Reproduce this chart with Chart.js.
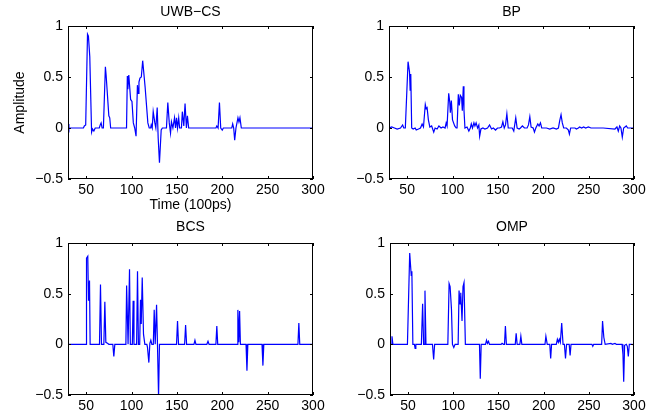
<!DOCTYPE html>
<html lang="en">
<head>
    <meta charset="UTF-8">
    <title>UWB-CS / BP / BCS / OMP</title>
    <script src="https://cdn.jsdelivr.net/npm/chart.js"></script>
    <style>
        body { margin: 0; background: #fff; }
        #fig { position: relative; width: 670px; height: 420px; }
        #fig canvas { position: absolute; }
    </style>
</head>
<body>
    <div id="fig">
        <canvas id="p1" width="335" height="225" style="left:0;top:0"></canvas>
        <canvas id="p2" width="335" height="210" style="left:335px;top:0"></canvas>
        <canvas id="p3" width="335" height="210" style="left:0;top:210px"></canvas>
        <canvas id="p4" width="335" height="210" style="left:335px;top:210px"></canvas>
    </div>

    <script>
        // axis ticks
        const xTicks = [50, 100, 150, 200, 250, 300];
        const yTicks = [-0.5, 0, 0.5, 1];

        // UWB-CS reconstruction
        const uwbTime = [30, 31, 47, 48, 49.5, 51.5, 52.5, 54, 56, 57, 58.5, 60, 64.5, 65.5, 66.5, 67.6, 69, 71.2, 72, 75, 76, 77,
            94.5, 95.4, 96, 97, 98, 99, 100.5, 102, 103.5, 105, 106.5, 107.5, 108.2, 109.3, 110.8, 112.3, 115, 118, 119.5,
            121, 121.7, 122.8, 123.9, 125.7, 126.8, 128.3, 129.4, 130.8, 132.7, 134, 138.5, 140, 141.6, 143, 144, 145.6,
            147.4, 148.5, 149.6, 150.7, 152, 153, 155, 156, 157.6, 159, 160.5, 161.6, 163, 193, 194, 195.4, 196.9, 198.3,
            200, 201.2, 210.5, 211.5, 212.6, 213.7, 215.1, 217.3, 218.4, 219.5, 221, 300];
        const uwbAmp = [0.04, 0, 0, 0.02, 0.03, 0.92, 0.9, 0.7, -0.04, -0.01, -0.03, 0, 0, 0.03, 0.05, 0, 0, 0.6, 0.52, 0.12, 0.1, 0,
            0, 0.51, 0.38, 0.52, 0.4, 0.28, 0.26, 0.05, 0, -0.08, 0.42, 0.34, 0.45, 0.49, 0.5, 0.66, 0.4, 0.05, 0,
            0, 0.03, 0, 0.16, 0.05, 0, 0.2, -0.1, -0.34, -0.02, 0, 0, 0.25, 0.05, -0.05, 0.06, 0,
            0.1, 0, 0.1, 0, 0.1, 0, 0, 0.16, 0.02, 0.24, 0, 0.12, 0, 0, 0.02, 0, 0.25, 0,
            -0.02, 0, 0, 0.04, 0, -0.12, 0, 0.1, 0.06, 0.1, 0, 0];

        // BP reconstruction
        const bpTime = [30, 33, 36, 39, 42.7, 45, 46.3, 48, 51, 52.6, 53.3, 54, 55, 56.6, 58.8, 60, 62.5, 64.7, 66.5, 68, 70, 71, 72,
            73.4, 75, 77, 79.3, 80.8, 83, 85, 87.4, 89.5, 91.8, 93, 94, 95.8, 97, 97.6, 98.7, 100, 102.4, 104, 105, 106.4,
            107.5, 108.6, 110, 110.8, 111.9, 112.6, 113.7, 116, 118, 119.6, 120.7, 122, 123.6, 124.7, 126, 127.6, 129,
            129.9, 131.3, 133.5, 135.7, 138.6, 140.8, 143, 145, 147.4, 149.6, 151.8, 154, 155.5, 157, 158.4, 159.9, 161.4,
            163.6, 165.8, 167.5, 169.7, 171.2, 173.4, 174.9, 177, 179.3, 182.2, 183.7, 185.2, 186.6, 188.9, 190.3, 191.8,
            194, 195.4, 196.9, 198.3, 203.5, 207.1, 210.8, 214.5, 216.7, 218.1, 219.6, 221, 222.5, 225.5, 227.7, 228.8,
            230.2, 235, 236.5, 238.7, 240.1, 242.3, 244.5, 246.7, 249.7, 252.6, 266, 279, 281.2, 282.7, 284.2, 285.6,
            287.1, 288.6, 291.5, 293, 300];
        const bpAmp = [0, 0.01, 0, -0.01, 0, 0.03, 0, 0, 0.65, 0.55, 0.37, 0.53, 0, -0.01, 0, -0.02, -0.01, 0, 0.04, 0.01, 0.23, 0.19, 0.2,
            0.08, 0.01, 0.02, -0.04, 0, -0.01, 0.02, 0, 0.01, 0, 0.05, 0.02, 0.34, 0.25, 0.15, 0.27, 0.08, 0.02, 0, 0, 0.33,
            0.22, 0.32, 0.3, 0.17, 0.41, 0.18, 0, 0.01, -0.03, 0, 0.04, 0, 0.05, 0.02, 0.05, 0, 0.03,
            -0.08, -0.01, 0, -0.01, 0, 0.03, -0.01, 0, -0.02, 0, 0, 0.01, 0.06, 0, 0.03, 0.14, 0,
            0, 0, -0.03, 0.1, 0, -0.01, 0, 0.02, 0, 0, 0.03, 0.11, 0.01, 0, -0.04, 0,
            0.04, 0.02, 0.05, 0, 0, -0.01, 0, -0.01, 0, 0.07, 0.13, 0.05, 0, 0, -0.02, -0.06,
            0, 0, -0.01, 0, 0.01, 0, 0.01, 0, 0.01, 0, 0, -0.01, 0.01, -0.03, 0.02, 0,
            -0.09, 0, 0.02, 0, 0];

        // BCS reconstruction
        const bcsTime = [30, 50, 50.4, 51.8, 52.6, 53.7, 54.4, 64.7, 65.8, 66.9, 69.5, 70.6, 71.7, 73.5, 75, 79.4, 80.5, 81.6,
            93.8, 94.6, 96.2, 97, 97.8, 98.7, 100.9, 101.8, 102.7, 105.6, 106.6, 107.6, 109, 109.9, 110.7, 111.8, 113.2,
            114.7, 116.9, 117.6, 119.1, 120.2, 121.3, 122.4, 124, 125, 126.1, 126.8, 127.6, 128.6, 129, 129.8, 130.8,
            149.6, 150.7, 151.8, 158.5, 159.6, 160.7, 168.8, 169.9, 171, 183, 184.3, 185.5, 193, 194, 195, 216.3, 217.2,
            218.3, 219.1, 220, 226.2, 227.2, 228.2, 243.8, 244.8, 245.8, 283.4, 284.4, 285.4, 300];
        const bcsAmp = [0, 0, 0.85, 0.87, 0.43, 0.63, 0, 0, 0.59, 0, 0, 0.42, 0.02, 0.01, 0, 0, -0.12, 0,
            0, 0.58, 0, 0, 0.74, 0, 0, 0.43, 0, 0, 0.72, 0, 0, 0.44, 0.2, 0.66, 0.1,
            0, 0, -0.03, -0.18, 0.01, 0.04, 0, 0, 0.34, 0, 0, 0.39, 0, 0, -0.52, 0,
            0, 0.23, 0, 0, 0.19, 0, 0, 0.04, 0, 0, 0.03, 0, 0, 0.18, 0, 0, 0.34,
            0.02, 0.33, 0, 0, -0.26, 0, 0, -0.21, 0, 0, 0.21, 0, 0];

        // OMP reconstruction
        const ompTime = [30, 31.6, 32.2, 33.2, 49.3, 51.8, 53.5, 54.2, 55.3, 57, 57.8, 58.6, 64.7, 66.1, 67.2, 67.7, 68.7, 69.8,
            77, 78.3, 79.4, 94, 95.4, 96.5, 98, 99.1, 100.6, 102, 105.4, 106.4, 107.5, 108.3, 109.7, 110.8, 111.9, 113.4,
            129, 129.9, 130.9, 135.7, 136.8, 137.9, 139, 140.1, 153, 154, 155.5, 156.7, 157.7, 158.8, 168.6, 169.6, 170.7,
            173.7, 174.8, 175.9, 201.5, 202.5, 204, 206.8, 207.8, 208.8, 214, 215.2, 216.3, 217.4, 218.5, 220, 221.5, 223,
            224.2, 225.4, 228.3, 229.3, 230.3, 253.4, 254.4, 255.4, 264.2, 265.2, 266.6, 268.1, 274.4, 275.9, 278.9, 280.4,
            286.8, 287.8, 288.6, 289.6, 291.5, 292.6, 293.7, 294.8, 298.1, 300];
        const ompAmp = [0, 0, 0.08, 0, 0, 0.9, 0.68, 0.72, 0, 0, -0.04, 0, 0, 0.4, 0, 0, 0.53, 0,
            0, -0.15, 0, 0, 0.6, 0.57, 0.35, 0, -0.03, 0, 0, 0.53, 0.4, 0.51, 0.23, 0.57, 0.61, 0,
            0, -0.34, 0, 0, 0.04, 0.01, 0.03, 0, 0, 0.01, 0, 0, 0.18, 0, 0, 0.11, 0,
            0, 0.08, 0, 0, 0.08, 0, 0, -0.14, 0, 0, 0.05, 0.02, 0.05, 0.02, 0.21, 0, 0,
            -0.14, 0, 0, -0.11, 0, 0, -0.02, 0, 0, 0.23, 0.07, 0, 0.01, 0, 0.01, 0,
            0, -0.1, -0.37, -0.01, 0, -0.02, -0.12, 0, 0, -0.01];

        Chart.defaults.font.family = '"Liberation Sans", Arial, Helvetica, sans-serif';
        Chart.defaults.font.size = 14;
        Chart.defaults.color = '#000';

        const fmt = v => String(v).replace('-', '\u2212');

        // box, inward ticks and panel title, matlab style
        const matlabBox = {
            id: 'matlabBox',
            afterDraw(chart, args, opts) {
                const { ctx, chartArea: a, scales: { x, y } } = chart;
                ctx.save();
                ctx.strokeStyle = '#000';
                ctx.lineWidth = 1;
                ctx.strokeRect(a.left + 0.5, a.top + 0.5, a.width - 1, a.height - 1);
                ctx.beginPath();
                xTicks.forEach(v => {
                    const px = Math.round(x.getPixelForValue(v)) + 0.5;
                    ctx.moveTo(px, a.bottom); ctx.lineTo(px, a.bottom - 3);
                    ctx.moveTo(px, a.top); ctx.lineTo(px, a.top + 3);
                });
                yTicks.forEach(v => {
                    const py = Math.round(y.getPixelForValue(v)) + 0.5;
                    ctx.moveTo(a.left, py); ctx.lineTo(a.left + 3, py);
                    ctx.moveTo(a.right, py); ctx.lineTo(a.right - 3, py);
                });
                ctx.stroke();
                ctx.fillStyle = '#000';
                ctx.font = '14px "Liberation Sans", Arial, sans-serif';
                ctx.textAlign = 'center';
                ctx.textBaseline = 'alphabetic';
                ctx.fillText(opts.title, (a.left + a.right) / 2, a.top - opts.gap);
                ctx.restore();
            }
        };

        function makePanel(id, title, time, amp, lay, labels) {
            new Chart(document.getElementById(id), {
                type: 'line',
                data: {
                    datasets: [{
                        data: time.map((t, i) => ({ x: t, y: amp[i] })),
                        borderColor: '#0000ff',
                        borderWidth: 1.2,
                        pointRadius: 0,
                        tension: 0,
                        fill: false
                    }]
                },
                options: {
                    responsive: false,
                    animation: false,
                    layout: { padding: { left: 0, right: lay.right, top: lay.top, bottom: 0 } },
                    plugins: {
                        legend: { display: false },
                        tooltip: { enabled: false },
                        matlabBox: { title: title, gap: lay.gap }
                    },
                    scales: {
                        x: {
                            type: 'linear', min: 30, max: 300,
                            afterBuildTicks: s => { s.ticks = xTicks.map(v => ({ value: v })); },
                            afterFit: s => { s.height = lay.xh; },
                            grid: { display: false, drawTicks: false },
                            border: { display: false },
                            ticks: { padding: 3, maxRotation: 0, autoSkip: false, callback: fmt },
                            title: { display: labels, text: 'Time (100ps)', padding: { top: 0, bottom: 11 } }
                        },
                        y: {
                            type: 'linear', min: -0.5, max: 1,
                            afterBuildTicks: s => { s.ticks = yTicks.map(v => ({ value: v })); },
                            afterFit: s => { s.width = lay.yw; },
                            grid: { display: false, drawTicks: false },
                            border: { display: false },
                            ticks: { padding: 5, autoSkip: false, callback: fmt },
                            title: { display: labels, text: 'Amplitude', padding: { top: 12, bottom: 0 } }
                        }
                    }
                },
                plugins: [matlabBox]
            });
        }

        makePanel('p1', 'UWB\u2212CS', uwbTime, uwbAmp, { yw: 68, right: 22, top: 26, xh: 46, gap: 10 }, true);
        makePanel('p2', 'BP', bpTime, bpAmp, { yw: 54, right: 36, top: 26, xh: 31, gap: 10 }, false);
        makePanel('p3', 'BCS', bcsTime, bcsAmp, { yw: 68, right: 22, top: 33, xh: 25, gap: 12 }, false);
        makePanel('p4', 'OMP', ompTime, ompAmp, { yw: 55, right: 36, top: 33, xh: 25, gap: 12 }, false);
    </script>
</body>
</html>
